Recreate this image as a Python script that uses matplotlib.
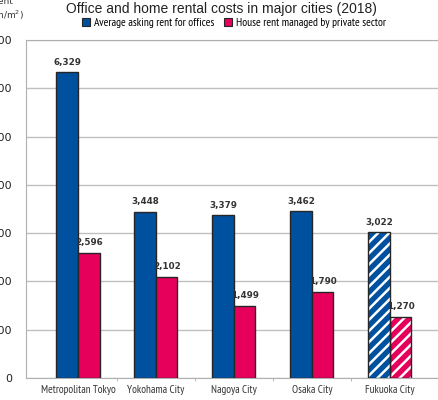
import matplotlib
matplotlib.use('Agg')
import matplotlib.pyplot as plt
from matplotlib.patches import Patch
import numpy as np

cities = ['Metropolitan Tokyo', 'Yokohama City', 'Nagoya City', 'Osaka City', 'Fukuoka City']
office_rent = [6329, 3448, 3379, 3462, 3022]
house_rent = [2596, 2102, 1499, 1790, 1270]
hatched = [False, False, False, False, True]
yticks = [0, 1000, 2000, 3000, 4000, 5000, 6000, 7000]

blue = '#0050a0'
pink = '#e6005c'
edge = '#262626'
narrow = ['PT Sans Narrow', 'Roboto Condensed', 'DejaVu Sans']

plt.rcParams['hatch.linewidth'] = 1.8

fig = plt.figure(figsize=(4.39, 4.0), dpi=100)
ax = fig.add_axes([26/439, 22/400, 413/439, 338/400])

x = np.arange(len(cities))
w = 0.276
for i in range(len(cities)):
    for off, val, col in [(-w/2, office_rent[i], blue), (w/2, house_rent[i], pink)]:
        if hatched[i]:
            ax.bar(x[i]+off, val, w, color=col, edgecolor='white', hatch='///', lw=0, zorder=3)
            ax.bar(x[i]+off, val, w, color='none', edgecolor=edge, lw=1.0, zorder=4)
        else:
            ax.bar(x[i]+off, val, w, color=col, edgecolor=edge, lw=1.0, zorder=3)
        ax.text(x[i]+off, val+110, f'{val:,}', ha='center', va='bottom',
                fontsize=6.3, fontweight='bold', color='#333333', zorder=5)

ax.set_xlim(-0.667, 4.63)
ax.set_ylim(0, 7000)
ax.set_yticks(yticks)
ax.set_yticklabels([f'{v:,}' for v in yticks], fontsize=8, color='#222222')
ax.tick_params(axis='y', length=0, pad=10)
ax.set_xticks(x)
ax.set_xticklabels(cities, family=narrow, fontsize=8, color='#333333')
ax.tick_params(axis='x', length=0, pad=5)
ax.set_xticks(x[:-1]+0.5, minor=True)
ax.tick_params(axis='x', which='minor', length=2, color='#aaaaaa')
ax.grid(axis='y', color='#c0c0c0', lw=1, zorder=0)
ax.spines['right'].set_visible(False)
for s in ['left', 'bottom', 'top']:
    ax.spines[s].set_color('#b0b0b0')

fig.text(221/439, 1-9/400, 'Office and home rental costs in major cities (2018)',
         ha='center', va='center', fontsize=10, family='Liberation Sans', color='#222222')
fig.text(3/439, 1-10/400, 'Rent\n(yen/m$^2$)', ha='center', va='center', fontsize=6.5,
         color='#333333', linespacing=1.2)

handles = [Patch(facecolor=blue, edgecolor=edge, lw=0.8),
           Patch(facecolor=pink, edgecolor=edge, lw=0.8)]
fig.legend(handles, ['Average asking rent for offices', 'House rent managed by private sector'],
           loc='center', bbox_to_anchor=(234/439, 1-23/400), ncol=2, frameon=False,
           prop={'family': narrow, 'size': 8.3}, handlelength=0.7, handleheight=0.7,
           handletextpad=0.3, columnspacing=0.9, borderpad=0)

fig.savefig('out.png', dpi=100)
